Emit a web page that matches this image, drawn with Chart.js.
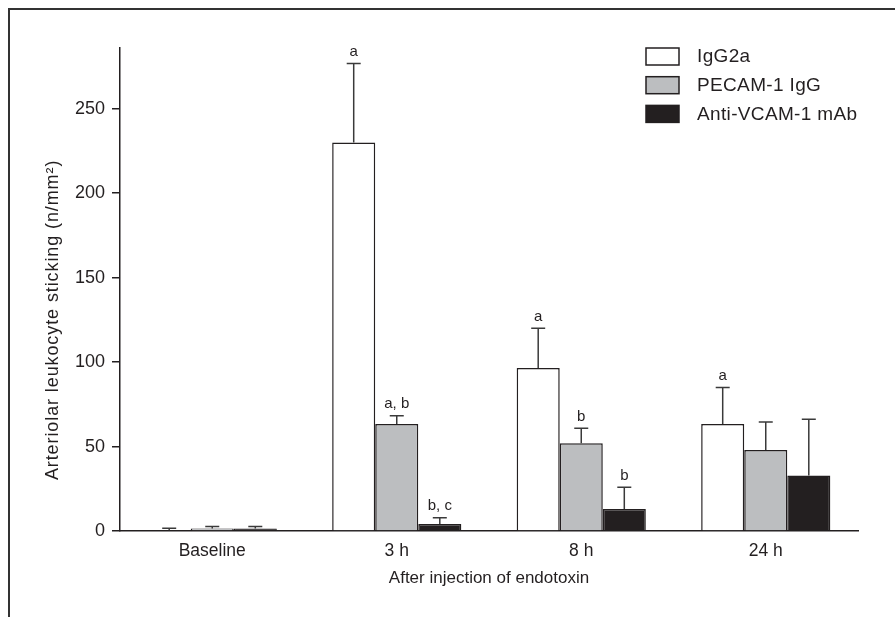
<!DOCTYPE html>
<html>
<head>
<meta charset="utf-8">
<script src="https://cdn.jsdelivr.net/npm/chart.js@4.4.1/dist/chart.umd.min.js"></script>
<style>
  html, body { margin: 0; padding: 0; background: #fff; }
  canvas { display: block; }
</style>
</head>
<body>
<canvas id="stickingChart" width="895" height="617"></canvas>
<script>
// data: mean and upper error bar length
const categories = ['Baseline', '3 h', '8 h', '24 h'];
const seriesNames = ['IgG2a', 'PECAM-1 IgG', 'Anti-VCAM-1 mAb'];
const igg2a = [0.5, 230, 96.5, 63.3];
const igg2aErr = [1.1, 46.8, 23.5, 21.7];
const pecam = [1.5, 63.3, 52, 48];
const pecamErr = [1.1, 4.9, 8.9, 16.5];
const vcam = [1.5, 4.2, 13, 32.8];
const vcamErr = [1.1, 3.7, 12.9, 33.4];
// significance letters above the error bars
const igg2aMarks = ['', 'a', 'a', 'a'];
const pecamMarks = ['', 'a, b', 'b', ''];
const vcamMarks = ['', 'b, c', 'b', ''];
const yTicks = [0, 50, 100, 150, 200, 250];
const yMax = 286;

const ink = '#231f20';
const fontFamily = "'Liberation Sans', Arial, sans-serif";

// frame, error bars, letters, y title and legend
const figurePlugin = {
  id: 'figure',
  beforeDraw(chart) {
    const ctx = chart.ctx;
    ctx.save();
    ctx.fillStyle = '#fff';
    ctx.fillRect(0, 0, chart.width, chart.height);
    ctx.strokeStyle = '#333';
    ctx.lineWidth = 2;
    ctx.beginPath();
    ctx.moveTo(9, chart.height);
    ctx.lineTo(9, 9);
    ctx.lineTo(chart.width, 9);
    ctx.stroke();
    ctx.restore();
  },
  afterDatasetsDraw(chart) {
    const ctx = chart.ctx;
    const y = chart.scales.y;
    ctx.save();
    chart.data.datasets.forEach((ds, i) => {
      const meta = chart.getDatasetMeta(i);
      meta.data.forEach((bar, j) => {
        const base = y.getPixelForValue(ds.data[j]);
        const top = y.getPixelForValue(ds.data[j] + ds.errors[j]);
        ctx.strokeStyle = '#3a3a3a';
        ctx.lineWidth = 1.5;
        ctx.beginPath();
        ctx.moveTo(bar.x, base);
        ctx.lineTo(bar.x, top);
        ctx.moveTo(bar.x - 7, top);
        ctx.lineTo(bar.x + 7, top);
        ctx.stroke();
        if (ds.marks[j]) {
          ctx.fillStyle = ink;
          ctx.font = '15px ' + fontFamily;
          ctx.textAlign = 'center';
          ctx.textBaseline = 'bottom';
          ctx.fillText(ds.marks[j], bar.x, top - 4);
        }
      });
    });
    ctx.restore();
  },
  afterDraw(chart) {
    const ctx = chart.ctx;
    const y = chart.scales.y;
    ctx.save();
    // y axis title, centred on the 0-250 span like the original
    ctx.translate(53, (y.getPixelForValue(0) + y.getPixelForValue(250)) / 2);
    ctx.rotate(-Math.PI / 2);
    ctx.fillStyle = ink;
    ctx.font = '18px ' + fontFamily;
    ctx.letterSpacing = '0.9px';
    ctx.textAlign = 'center';
    ctx.textBaseline = 'middle';
    ctx.fillText('Arteriolar leukocyte sticking (n/mm²)', 0, 0);
    ctx.restore();

    // legend
    ctx.save();
    chart.data.datasets.forEach((ds, i) => {
      const by = 48 + i * 28.7;
      ctx.fillStyle = ds.backgroundColor;
      ctx.fillRect(646, by, 33, 17);
      ctx.strokeStyle = ink;
      ctx.lineWidth = 1.5;
      ctx.strokeRect(646, by, 33, 17);
      ctx.fillStyle = ink;
      ctx.font = '19px ' + fontFamily;
      ctx.letterSpacing = '0.35px';
      ctx.textAlign = 'left';
      ctx.textBaseline = 'middle';
      ctx.fillText(ds.label, 697, by + 9);
    });
    ctx.restore();
  }
};

Chart.defaults.font.family = fontFamily;
Chart.defaults.color = ink;

const ctx = document.getElementById('stickingChart').getContext('2d');
const stickingChart = new Chart(ctx, {
  type: 'bar',
  data: {
    labels: categories,
    datasets: [
      { label: seriesNames[0], data: igg2a, errors: igg2aErr, marks: igg2aMarks, backgroundColor: '#ffffff' },
      { label: seriesNames[1], data: pecam, errors: pecamErr, marks: pecamMarks, backgroundColor: '#bcbec0' },
      { label: seriesNames[2], data: vcam, errors: vcamErr, marks: vcamMarks, backgroundColor: ink },
    ],
  },
  options: {
    responsive: false,
    animation: false,
    layout: { padding: { top: 48, right: 37, left: 0, bottom: 0 } },
    datasets: {
      bar: {
        categoryPercentage: 0.7,
        barPercentage: 1,
        borderColor: ink,
        borderWidth: 1.5,
      },
    },
    plugins: {
      legend: { display: false },
      tooltip: { enabled: false },
    },
    scales: {
      x: {
        grid: { display: false, drawTicks: false },
        border: { color: ink, width: 1.5 },
        ticks: { padding: 10, font: { size: 17.5 }, color: ink },
        title: {
          display: true,
          text: 'After injection of endotoxin',
          font: { size: 17 },
          color: ink,
          padding: { top: 0, bottom: 28 },
        },
        afterFit: (scale) => { scale.height = 86; },
      },
      y: {
        min: 0,
        max: yMax,
        grid: { drawOnChartArea: false, drawTicks: true, tickLength: 8, color: ink, lineWidth: 1.5 },
        border: { color: ink, width: 1.5 },
        ticks: { stepSize: 50, padding: 7, font: { size: 18 }, color: ink },
        afterBuildTicks: (scale) => {
          scale.ticks = yTicks.map(v => ({ value: v }));
        },
        afterFit: (scale) => { scale.width = 120; },
      },
    },
  },
  plugins: [figurePlugin],
});
</script>
</body>
</html>
